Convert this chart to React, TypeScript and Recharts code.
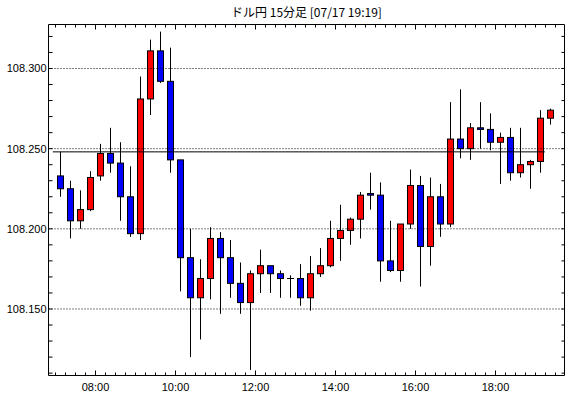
import { Bar, ComposedChart, ReferenceLine, XAxis, YAxis } from 'recharts';

const title = 'ドル円 15分足 [07/17 19:19]';

// 15分足 (start time of each candle)
const times = [
  '07:00', '07:15', '07:30', '07:45', '08:00', '08:15', '08:30', '08:45', '09:00', '09:15',
  '09:30', '09:45', '10:00', '10:15', '10:30', '10:45', '11:00', '11:15', '11:30', '11:45',
  '12:00', '12:15', '12:30', '12:45', '13:00', '13:15', '13:30', '13:45', '14:00', '14:15',
  '14:30', '14:45', '15:00', '15:15', '15:30', '15:45', '16:00', '16:15', '16:30', '16:45',
  '17:00', '17:15', '17:30', '17:45', '18:00', '18:15', '18:30', '18:45', '19:00', '19:15',
];
const opens = [
  108.233, 108.225, 108.205, 108.212, 108.233, 108.247, 108.241, 108.220, 108.197, 108.281,
  108.311, 108.292, 108.243, 108.182, 108.157, 108.169, 108.194, 108.182, 108.166, 108.154,
  108.172, 108.177, 108.172, 108.169, 108.169, 108.157, 108.172, 108.177, 108.194, 108.199,
  108.206, 108.222, 108.221, 108.180, 108.174, 108.203, 108.227, 108.189, 108.220, 108.203,
  108.256, 108.250, 108.263, 108.262, 108.254, 108.257, 108.235, 108.240, 108.242, 108.269,
];
const highs = [
  108.248, 108.230, 108.224, 108.236, 108.253, 108.263, 108.254, 108.239, 108.295, 108.318,
  108.323, 108.313, 108.243, 108.200, 108.181, 108.201, 108.198, 108.193, 108.179, 108.174,
  108.187, 108.177, 108.174, 108.171, 108.178, 108.183, 108.188, 108.205, 108.215, 108.207,
  108.223, 108.235, 108.229, 108.205, 108.203, 108.237, 108.233, 108.232, 108.228, 108.279,
  108.287, 108.266, 108.279, 108.272, 108.260, 108.263, 108.263, 108.243, 108.274, 108.275,
];
const lows = [
  108.220, 108.194, 108.200, 108.211, 108.230, 108.235, 108.205, 108.195, 108.193, 108.271,
  108.291, 108.235, 108.161, 108.120, 108.131, 108.156, 108.147, 108.157, 108.147, 108.112,
  108.160, 108.160, 108.157, 108.157, 108.152, 108.149, 108.170, 108.176, 108.180, 108.190,
  108.194, 108.212, 108.167, 108.173, 108.167, 108.200, 108.164, 108.177, 108.195, 108.201,
  108.244, 108.243, 108.250, 108.249, 108.228, 108.230, 108.232, 108.225, 108.235, 108.265,
];
const closes = [
  108.225, 108.205, 108.212, 108.232, 108.247, 108.241, 108.220, 108.197, 108.281, 108.311,
  108.292, 108.243, 108.182, 108.157, 108.169, 108.194, 108.182, 108.166, 108.154, 108.172,
  108.177, 108.172, 108.169, 108.169, 108.157, 108.172, 108.177, 108.194, 108.199, 108.206,
  108.221, 108.221, 108.180, 108.174, 108.203, 108.227, 108.189, 108.220, 108.203, 108.256,
  108.250, 108.263, 108.262, 108.254, 108.257, 108.235, 108.240, 108.242, 108.269, 108.274,
];

const priceTicks = [
  108.11, 108.12, 108.13, 108.14, 108.15, 108.16, 108.17, 108.18, 108.19, 108.2, 108.21,
  108.22, 108.23, 108.24, 108.25, 108.26, 108.27, 108.28, 108.29, 108.3, 108.31, 108.32,
];
const priceLabels = [108.15, 108.2, 108.25, 108.3];
const hourLabels = ['08:00', '10:00', '12:00', '14:00', '16:00', '18:00'];
const baseLine = 108.248;

const toMin = (s: string) => {
  const [h, m] = s.split(':').map(Number);
  return h * 60 + m;
};
const fmtTime = (v: number) =>
  `${String(Math.floor(v / 60)).padStart(2, '0')}:${String(v % 60).padStart(2, '0')}`;

const data = times.map((t, i) => ({
  t: toMin(t) + 7.5,
  open: opens[i],
  high: highs[i],
  low: lows[i],
  close: closes[i],
}));

const timeTicks: number[] = [];
for (let m = toMin('07:00'); m <= toMin('19:30'); m += 15) timeTicks.push(m);

const labelFont = { fontSize: 11, fontFamily: 'Liberation Sans, Arial, sans-serif', fill: '#000' };

const Candle = (props: any) => {
  const { x, y, width, height, payload } = props;
  const { open, close, high, low } = payload;
  const cx = Math.round(x + width / 2 - 0.5) + 0.5;
  const span = high - low || 1;
  const yOf = (v: number) => y + ((high - v) / span) * height;
  const top = yOf(Math.max(open, close));
  const bottom = yOf(Math.min(open, close));
  const up = close >= open;
  return (
    <g>
      <line x1={cx} x2={cx} y1={y} y2={y + height} stroke="#000" strokeWidth={1} />
      {bottom - top < 0.8 ? (
        <line x1={cx - 3.5} x2={cx + 3.5} y1={top} y2={top} stroke="#000" strokeWidth={1} />
      ) : (
        <rect x={cx - 3} y={top} width={6} height={bottom - top} fill={up ? '#ff0000' : '#0000ff'} stroke="#000" strokeWidth={1} />
      )}
    </g>
  );
};

const BottomTick = ({ x, y, payload }: any) => {
  const label = fmtTime(payload.value);
  const major = hourLabels.includes(label);
  return (
    <g>
      <line x1={x} x2={x} y1={y} y2={y - (major ? 5 : 3)} stroke="#000" />
      {major && (
        <text x={x} y={y + 15} textAnchor="middle" {...labelFont}>{label}</text>
      )}
    </g>
  );
};

const TopTick = ({ x, y, payload }: any) => {
  const major = hourLabels.includes(fmtTime(payload.value));
  return <line x1={x} x2={x} y1={y} y2={y + (major ? 5 : 3)} stroke="#000" />;
};

const LeftTick = ({ x, y, payload }: any) => {
  const v = payload.value;
  return (
    <g>
      <line x1={x} x2={x + 4} y1={y} y2={y} stroke="#000" />
      {priceLabels.includes(v) && (
        <text x={x - 2} y={y + 4} textAnchor="end" {...labelFont}>{v.toFixed(3)}</text>
      )}
    </g>
  );
};

const RightTick = ({ x, y }: any) => <line x1={x} x2={x - 3} y1={y} y2={y} stroke="#000" />;

const xDomain = [409.5, 1183.5];
const yDomain = [108.10852, 108.32744];

export default function App() {
  return (
    <div style={{ position: 'absolute', left: 0, top: 0, width: 570, height: 398, background: '#fff' }}>
      <div
        style={{
          position: 'absolute', left: 0, top: 4, width: 613, textAlign: 'center',
          fontSize: 12, lineHeight: '16px', fontFamily: '"Noto Sans CJK JP", sans-serif', color: '#000',
        }}
      >
        {title}
      </div>
      <ComposedChart
        width={570}
        height={398}
        data={data}
        margin={{ top: 23.5, right: 4.5, bottom: 21.5, left: 0 }}
      >
        <XAxis
          dataKey="t" type="number" domain={xDomain} allowDataOverflow ticks={timeTicks} interval={0}
          height={1} tickSize={0} tickMargin={0} tickLine={false} axisLine={{ stroke: '#000' }}
          tick={<BottomTick />}
        />
        <XAxis
          xAxisId="top" orientation="top" dataKey="t" type="number" domain={xDomain} allowDataOverflow
          ticks={timeTicks} interval={0} height={1} tickSize={0} tickMargin={0} tickLine={false}
          axisLine={{ stroke: '#000' }} tick={<TopTick />}
        />
        <YAxis
          type="number" domain={yDomain} allowDataOverflow ticks={priceTicks} interval={0}
          width={48.5} tickSize={0} tickMargin={0} tickLine={false} axisLine={{ stroke: '#000' }}
          tick={<LeftTick />}
        />
        <YAxis
          yAxisId="right" orientation="right" type="number" domain={yDomain} allowDataOverflow
          ticks={priceTicks} interval={0} width={1} tickSize={0} tickMargin={0} tickLine={false}
          axisLine={{ stroke: '#000' }} tick={<RightTick />}
        />
        {priceLabels.map((p) => (
          <ReferenceLine key={p} y={p} stroke="#000" strokeDasharray="1 2" />
        ))}
        <Bar
          dataKey={(d: any) => [d.low, d.high]}
          barSize={6}
          shape={(p: any) => <Candle {...p} />}
          isAnimationActive={false}
        />
        <ReferenceLine
          segment={[{ x: 416, y: baseLine }, { x: 1154, y: baseLine }]}
          stroke="#000"
          strokeWidth={1}
        />
      </ComposedChart>
    </div>
  );
}
